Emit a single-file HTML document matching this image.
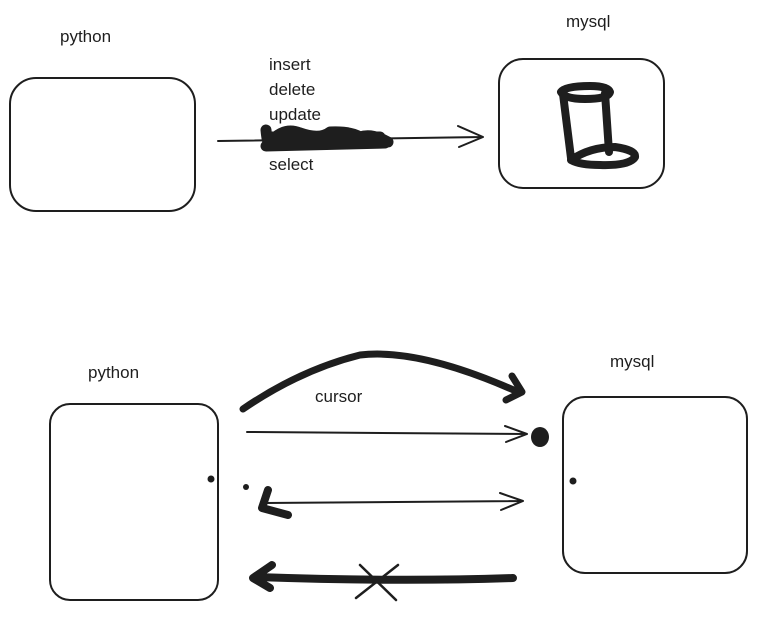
<!DOCTYPE html>
<html><head><meta charset="utf-8"><style>
html,body{margin:0;padding:0;background:#fff;}
svg{display:block;}
text{font-family:"Liberation Sans",sans-serif;font-size:17px;fill:#1e1e1e;}
</style></head><body>
<svg width="757" height="625" viewBox="0 0 757 625" fill="none" stroke="#1e1e1e" stroke-linecap="round" stroke-linejoin="round">
<text x="60" y="42" stroke="none">python</text>
<text x="566" y="27" stroke="none">mysql</text>
<rect x="10" y="78" width="185" height="133" rx="26" stroke-width="2"/>
<rect x="499" y="59" width="165" height="129" rx="24" stroke-width="2"/>
<text x="269" y="70" stroke="none">insert</text>
<text x="269" y="95" stroke="none">delete</text>
<text x="269" y="120" stroke="none">update</text>
<text x="269" y="170" stroke="none">select</text>
<path d="M218 141 L483 137 M458 126 L483 137 L459 147" stroke-width="2"/>
<path d="M266 130 Q268 152 272 140 Q285 127 300 133 Q320 140 330 132 Q350 131 360 137 Q372 133 388 142 M266 146 L385 143 M270 137 L380 137" stroke-width="11"/>
<g stroke-width="8">
<path d="M561 92 Q565 86 590 86 Q608 86 610 92 Q608 99 585 99 Q565 99 561 92 Z"/>
<path d="M563 94 L571 158 M605 93 L609 152"/>
<path d="M571 160 Q590 147 615 147 Q636 150 635 157 Q630 166 600 165 Q580 165 571 160"/>
</g>
<text x="88" y="378" stroke="none">python</text>
<text x="610" y="367" stroke="none">mysql</text>
<text x="315" y="402" stroke="none">cursor</text>
<rect x="50" y="404" width="168" height="196" rx="20" stroke-width="2"/>
<rect x="563" y="397" width="184" height="176" rx="22" stroke-width="2"/>
<circle cx="211" cy="479" r="3.5" fill="#1e1e1e" stroke="none"/>
<circle cx="573" cy="481" r="3.5" fill="#1e1e1e" stroke="none"/>
<path d="M243 409 Q300 370 360 355 Q420 348 518 392 M512 376 L522 392 L506 400" stroke-width="7"/>
<path d="M247 432 L527 434 M505 426 L527 434 L506 442" stroke-width="2"/>
<ellipse cx="540" cy="437" rx="9" ry="10" fill="#1e1e1e" stroke="none"/>
<path d="M265 503 L523 501 M500 493 L523 501 L501 510" stroke-width="2"/>
<path d="M268 490 L262 508 L288 515" stroke-width="8"/>
<circle cx="246" cy="487" r="3" fill="#1e1e1e" stroke="none"/>
<path d="M513 578 Q400 582 256 577 M272 565 L253 578 L270 588" stroke-width="8"/>
<path d="M360 565 L396 600 M398 565 L356 598" stroke-width="2.5"/>
</svg>
</body></html>
